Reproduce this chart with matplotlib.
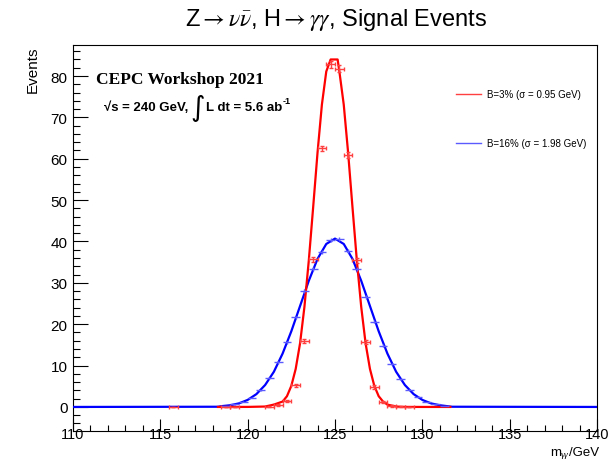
import numpy as np
import matplotlib
matplotlib.use("Agg")
import matplotlib.pyplot as plt
from matplotlib.ticker import MultipleLocator
from matplotlib.lines import Line2D

plt.rcParams['font.family'] = ['Liberation Sans', 'DejaVu Sans']
plt.rcParams['mathtext.fontset'] = 'stix'

# histogram points (bin centres, 0.5 GeV bins)
red_x = [115.75, 118.75, 119.25, 121.25, 121.75, 122.25, 122.75, 123.25, 123.75, 124.25,
         124.75, 125.25, 125.75, 126.25, 126.75, 127.25, 127.75, 128.25, 128.75, 129.25]
red_y = [0.05, 0.05, 0.05, 0.1, 0.4, 1.4, 5.2, 16.0, 35.7, 62.5,
         82.8, 81.8, 61.0, 35.5, 15.7, 4.8, 1.2, 0.3, 0.1, 0.05]
red_err = [0.05, 0.05, 0.05, 0.1, 0.2, 0.3, 0.4, 0.5, 0.6, 0.7,
           0.8, 0.8, 0.7, 0.6, 0.5, 0.4, 0.3, 0.2, 0.1, 0.05]

blue_x = [118.75, 119.25, 119.75, 120.25, 120.75, 121.25, 121.75, 122.25, 122.75, 123.25,
          123.75, 124.25, 124.75, 125.25, 125.75, 126.25, 126.75, 127.25, 127.75, 128.25,
          128.75, 129.25, 129.75, 130.25, 130.75, 131.25]
blue_y = [0.3, 0.65, 1.3, 2.2, 4.0, 6.9, 10.8, 15.6, 21.7, 28.1,
          33.3, 37.4, 40.4, 40.5, 37.8, 33.3, 26.5, 20.6, 14.8, 10.4,
          6.8, 4.2, 2.5, 1.2, 0.6, 0.2]
blue_err = [0.05, 0.08, 0.1, 0.15, 0.2, 0.25, 0.3, 0.35, 0.4, 0.45,
            0.5, 0.5, 0.5, 0.5, 0.5, 0.5, 0.45, 0.4, 0.35, 0.3,
            0.25, 0.2, 0.15, 0.1, 0.08, 0.05]

# fitted curves, sampled by eye
red_cx = [118.3, 120.0, 121.0, 121.5, 122.0, 122.25, 122.5, 122.75, 123.0, 123.25,
          123.5, 123.75, 124.0, 124.25, 124.5, 124.75, 124.85, 125.15, 125.25, 125.5,
          125.75, 126.0, 126.25, 126.5, 126.75, 127.0, 127.25, 127.5, 127.75, 128.0,
          128.5, 129.0, 130.0, 131.6]
red_cy = [0.0, 0.01, 0.1, 0.57, 1.3, 2.6, 5.1, 9.2, 15.4, 24.2,
          35.4, 48.3, 61.5, 73.1, 81.1, 84.0, 84.0, 84.0, 81.1, 73.1,
          61.5, 48.3, 35.4, 24.2, 15.4, 9.2, 5.1, 2.6, 1.3, 0.57,
          0.1, 0.01, 0.0, 0.0]

blue_cx = [110.0, 118.3, 118.5, 119.0, 119.5, 120.0, 120.5, 121.0, 121.5, 122.0,
           122.5, 123.0, 123.5, 124.0, 124.5, 125.0, 125.5, 126.0, 126.5, 127.0,
           127.5, 128.0, 128.5, 129.0, 129.5, 130.0, 130.5, 131.0, 131.7, 140.0]
blue_cy = [0.0, 0.05, 0.19, 0.41, 0.86, 1.7, 3.1, 5.3, 8.5, 12.9,
           18.3, 24.4, 30.5, 35.8, 39.4, 40.7, 39.4, 35.8, 30.5, 24.4,
           18.3, 12.9, 8.5, 5.3, 3.1, 1.7, 0.86, 0.41, 0.05, 0.0]

labels = ["B=3% (\u03c3 = 0.95 GeV)", "B=16% (\u03c3 = 1.98 GeV)"]

fig = plt.figure(figsize=(6.13, 4.60), dpi=100)
ax = fig.add_axes([0.119, 0.061, 0.855, 0.839])

ax.plot(blue_cx, blue_cy, color='#0000ff', lw=1.6, zorder=3)
ax.plot(red_cx, red_cy, color='#ff0000', lw=1.6, zorder=4)

ax.errorbar(blue_x, blue_y, xerr=0.25, yerr=blue_err, fmt='none', ecolor='#5a5aff',
            elinewidth=1.0, capsize=0, zorder=5)
ax.errorbar(red_x, red_y, xerr=0.25, yerr=red_err, fmt='none', ecolor='#ff4040',
            elinewidth=1.0, capsize=1.6, capthick=1.0, zorder=6)

ax.set_xlim(110, 140)
ax.set_ylim(-5.8, 87.5)
ax.xaxis.set_major_locator(MultipleLocator(5))
ax.xaxis.set_minor_locator(MultipleLocator(1))
ax.yaxis.set_major_locator(MultipleLocator(10))
ax.yaxis.set_minor_locator(MultipleLocator(2))
ax.tick_params(axis='both', which='both', direction='in', labelsize=11,
               color='black', width=0.8)
ax.tick_params(axis='x', which='both', pad=-3.0, labelsize=10.5)
ax.tick_params(axis='y', which='both', pad=4)
ax.tick_params(axis='x', which='major', length=8.5)
ax.tick_params(axis='x', which='minor', length=4.3)
ax.tick_params(axis='y', which='major', length=10.5)
ax.tick_params(axis='y', which='minor', length=5.3)
for sp in ax.spines.values():
    sp.set_linewidth(0.8)

ax.set_ylabel('Events', fontsize=11)
ax.yaxis.set_label_coords(-0.063, 1.0)
ax.yaxis.label.set_ha('right')

# x title built from pieces: m, subscript gamma gamma, /GeV (right aligned at frame edge)
renderer = fig.canvas.get_renderer()
inv = fig.transFigure.inverted()
t_gev = fig.text(599 / 613, 1 - 456.2 / 460, "/GeV", ha='right', va='baseline', fontsize=9.5)
x0 = inv.transform(t_gev.get_window_extent(renderer))[0][0]
t_sub = fig.text(x0, 1 - 457.8 / 460, "\u03b3\u03b3", ha='right', va='baseline', fontsize=7,
                 family='Liberation Serif', style='italic')
x1 = inv.transform(t_sub.get_window_extent(renderer))[0][0]
fig.text(x1, 1 - 456.2 / 460, "m", ha='right', va='baseline', fontsize=9.5)

fig.text(336 / 613, 1 - 20 / 460,
         r"Z$\rightarrow\nu\bar{\nu}$, H$\rightarrow\gamma\gamma$, Signal Events",
         ha='center', va='center', fontsize=17)

fig.text(96 / 613, 1 - 80 / 460, "CEPC Workshop 2021", family='Liberation Serif',
         fontweight='bold', fontsize=12.5, ha='left', va='center')
fig.text(104 / 613, 1 - 108 / 460, "\u221as = 240 GeV,", fontweight='bold',
         fontsize=9.5, ha='left', va='center')
fig.text(190 / 613, 1 - 108 / 460, "\u222b", fontsize=20, ha='left', va='center',
         family='DejaVu Sans')
fig.text(206 / 613, 1 - 108 / 460, "L dt = 5.6 ab", fontweight='bold',
         fontsize=9.5, ha='left', va='center')
fig.text(283 / 613, 1 - 102 / 460, "-1", fontweight='bold',
         fontsize=6.5, ha='left', va='center')

handles = [Line2D([], [], color='#ff4040', lw=1.0), Line2D([], [], color='#5a5aff', lw=1.0)]
ax.legend(handles, labels, loc='upper left', bbox_to_anchor=(0.73, 0.885), frameon=False,
          fontsize=7, handlelength=2.6, handletextpad=0.6, labelspacing=4.0,
          borderpad=0, borderaxespad=0)

fig.savefig('out.png', dpi=100)
